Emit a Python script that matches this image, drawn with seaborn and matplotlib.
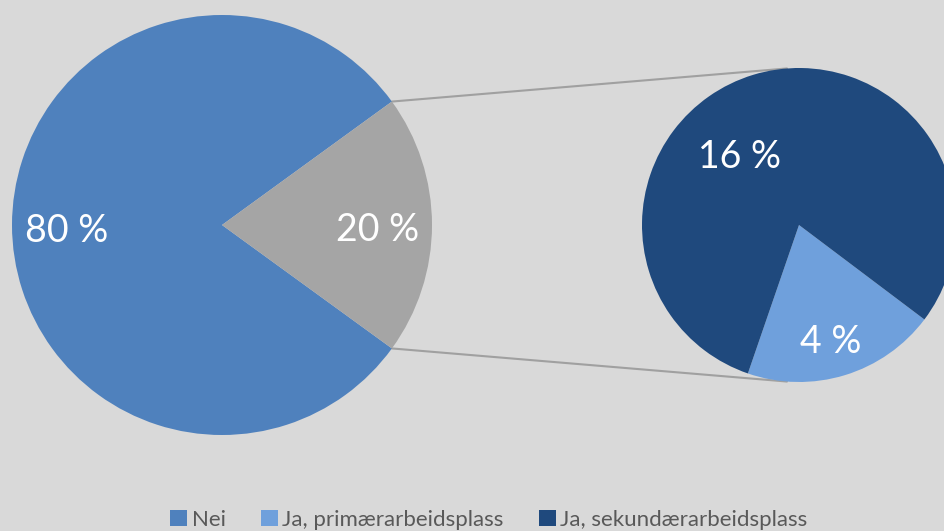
import numpy as np
import matplotlib
matplotlib.use("Agg")
import matplotlib.pyplot as plt
import seaborn as sns

# Data
kategorier = ["Nei", "Ja"]
andel = [80, 20]
ja_kategorier = ["Ja, primærarbeidsplass", "Ja, sekundærarbeidsplass"]
ja_andel = [4, 16]

farger = ["#4F81BD", "#A5A5A5"]
ja_farger = ["#6FA0DC", "#1F497D"]
bakgrunn = "#D9D9D9"

sns.set_theme(style="white")
plt.rcParams["font.family"] = ["Lato", "DejaVu Sans"]

fig = plt.figure(figsize=(9.45, 5.31), dpi=100, facecolor=bakgrunn)
ax = fig.add_axes([0, 0, 1, 1])
ax.set_facecolor(bakgrunn)
ax.axis("off")

# Hovedsirkel
c1, r1 = (222, 306), 210
w1, t1 = ax.pie(andel, colors=farger, startangle=36, center=c1, radius=r1,
                labels=None, wedgeprops=dict(linewidth=0))
for w, v in zip(w1, andel):
    vinkel = np.deg2rad((w.theta1 + w.theta2) / 2)
    ax.text(c1[0] + 0.74 * r1 * np.cos(vinkel), c1[1] + 0.74 * r1 * np.sin(vinkel) - 2,
            f"{v} %", color="white", fontsize=27, ha="center", va="center_baseline")

# Sekundær sirkel
c2, r2 = (799, 306), 157
w2, t2 = ax.pie(ja_andel, colors=ja_farger, startangle=251, center=c2, radius=r2,
                labels=None, wedgeprops=dict(linewidth=0))
label_vinkler = [-74, 129]
label_avstand = [0.74, 0.6]
for v, a, d in zip(ja_andel, label_vinkler, label_avstand):
    a = np.deg2rad(a)
    ax.text(c2[0] + d * r2 * np.cos(a), c2[1] + d * r2 * np.sin(a) - 2,
            f"{v} %", color="white", fontsize=27, ha="center", va="center_baseline")

# Forbindelseslinjer
gray_wedge = w1[1]
for a1, a2 in [(gray_wedge.theta2, 94.4), (gray_wedge.theta1, -94.4)]:
    a1, a2 = np.deg2rad(a1), np.deg2rad(a2)
    ax.plot([c1[0] + r1 * np.cos(a1), c2[0] + r2 * np.cos(a2)],
            [c1[1] + r1 * np.sin(a1), c2[1] + r2 * np.sin(a2)],
            color="#A0A0A0", linewidth=1.5, zorder=0)

ax.set_xlim(0, 945)
ax.set_ylim(0, 531)
ax.set_aspect("equal")

# Forklaring
handles = [w1[0], w2[0], w2[1]]
navn = [kategorier[0]] + ja_kategorier
fig.legend(handles, navn, loc="lower center", bbox_to_anchor=(489 / 945, -0.035),
           ncol=3, frameon=False, fontsize=16, handlelength=0.75, handleheight=0.75,
           handletextpad=0.2, columnspacing=1.6, labelcolor="#595959")

fig.savefig("out.png", dpi=100, facecolor=bakgrunn)
